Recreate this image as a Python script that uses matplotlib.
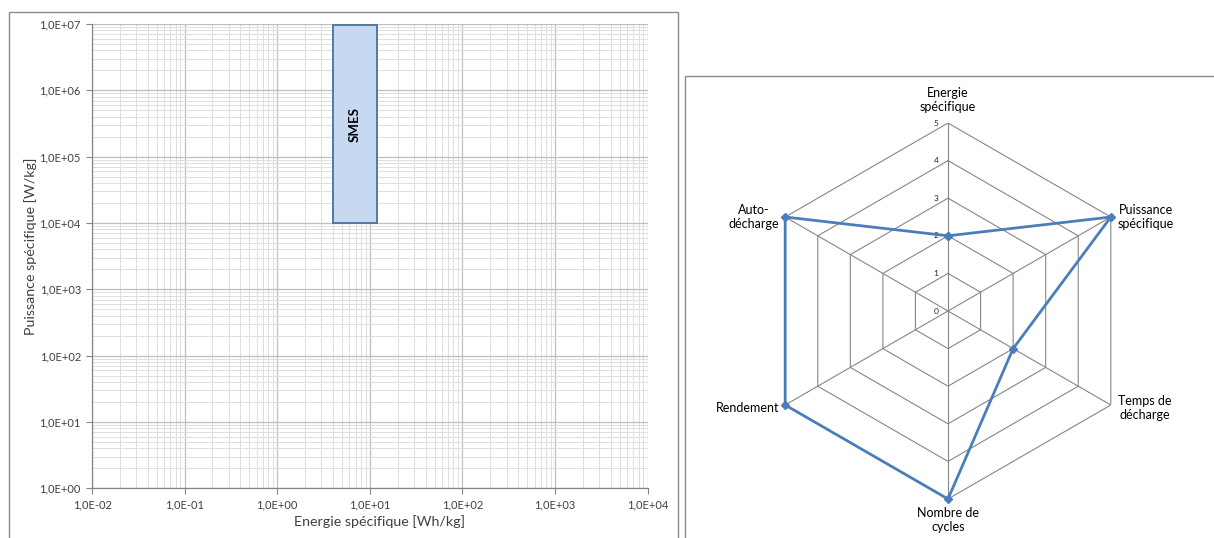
import numpy as np
import matplotlib.pyplot as plt
from matplotlib.patches import Rectangle
from matplotlib.ticker import FixedLocator, FuncFormatter, NullFormatter

plt.rcParams['font.family'] = ['Lato', 'DejaVu Sans']

# SMES domain in the Ragone plane
smes_energy = [4.0, 12.0]      # Wh/kg
smes_power = [1.0e4, 9.5e6]    # W/kg

# decades shown on both log axes
x_decades = [-2, -1, 0, 1, 2, 3, 4]
y_decades = [0, 1, 2, 3, 4, 5, 6, 7]

# radar criteria, scored 0..5
criteria = ['Energie\nspécifique', 'Puissance\nspécifique', 'Temps de\ndécharge',
            'Nombre de\ncycles', 'Rendement', 'Auto-\ndécharge']
scores = [2, 5, 2, 5, 5, 5]
rings = [0, 1, 2, 3, 4, 5]

GRID_MAJ = '#bfbfbf'
GRID_MIN = '#dedede'
AXIS_COL = '#868686'
TXT_COL = '#404040'
BLUE = '#4a7ebb'


def sci_comma(v, pos):
    e = int(np.floor(np.log10(v) + 1e-9))
    m = v / 10.0 ** e
    return f'{m:.1f}E{e:+03d}'.replace('.', ',')


def decade_ticks(decs):
    major = [10.0 ** d for d in decs]
    minor = [k * 10.0 ** d for d in decs[:-1] for k in range(2, 10)]
    return major, minor


fig = plt.figure(figsize=(12.14, 5.38), dpi=100)
W, H = 1214.0, 538.0

# chart frames
fig.add_artist(Rectangle((8.5 / W, -0.02), (678 - 8.5) / W, (538 - 11.5) / H + 0.02,
                         transform=fig.transFigure, fill=False, ec='#8c8c8c', lw=1))
fig.add_artist(Rectangle((685 / W, -0.02), (1230 - 685) / W, (538 - 76) / H + 0.02,
                         transform=fig.transFigure, fill=False, ec='#8c8c8c', lw=1))

# ---- Ragone plot ----
ax = fig.add_axes([92 / W, (538 - 488.3) / H, 555.7 / W, 464.3 / H])
ax.set_xscale('log')
ax.set_yscale('log')
ax.set_xlim(10.0 ** x_decades[0], 10.0 ** x_decades[-1])
ax.set_ylim(10.0 ** y_decades[0], 10.0 ** y_decades[-1])
for axis, decs in ((ax.xaxis, x_decades), (ax.yaxis, y_decades)):
    major, minor = decade_ticks(decs)
    axis.set_major_locator(FixedLocator(major))
    axis.set_minor_locator(FixedLocator(minor))
    axis.set_major_formatter(FuncFormatter(sci_comma))
    axis.set_minor_formatter(NullFormatter())
ax.grid(which='major', color=GRID_MAJ, lw=0.9)
ax.grid(which='minor', color=GRID_MIN, lw=0.7)
ax.set_axisbelow(True)
ax.tick_params(which='minor', length=0)
ax.tick_params(which='major', length=4, width=0.8, color=AXIS_COL,
               labelsize=8, labelcolor=TXT_COL, pad=4)
for s in ('top', 'right'):
    ax.spines[s].set_visible(False)
for s in ('left', 'bottom'):
    ax.spines[s].set_color(AXIS_COL)
    ax.spines[s].set_linewidth(0.9)

ax.add_patch(Rectangle((smes_energy[0], smes_power[0]),
                       smes_energy[1] - smes_energy[0], smes_power[1] - smes_power[0],
                       fc='#c6d9f1', ec='#4a6f9c', lw=1.3, zorder=3))
ax.text(np.sqrt(smes_energy[0] * smes_energy[1]), np.sqrt(smes_power[0] * smes_power[1]),
        'SMES', rotation=90, fontweight='bold', fontsize=9.5, ha='center', va='center', zorder=4)

fig.text(380 / W, 1 - 522 / H, 'Energie spécifique [Wh/kg]', fontsize=10.3,
         color=TXT_COL, ha='center', va='center')
fig.text(31 / W, 1 - 246 / H, 'Puissance spécifique [W/kg]', fontsize=10.3,
         color=TXT_COL, ha='center', va='center', rotation=90)

# ---- radar ----
cx, cy, R = 948.0, 311.0, 188.0
rax = fig.add_axes([(cx - R) / W, (H - cy - R) / H, 2 * R / W, 2 * R / H], projection='polar')
rax.set_theta_zero_location('N')
rax.set_theta_direction(-1)
rax.set_ylim(0, rings[-1])
rax.axis('off')

theta = np.arange(len(criteria)) * 2 * np.pi / len(criteria)
closed = np.append(theta, theta[0])
for r in rings[1:]:
    rax.plot(closed, [r] * len(closed), color=AXIS_COL, lw=0.8, zorder=1)
for t in theta:
    rax.plot([t, t], [0, rings[-1]], color=AXIS_COL, lw=0.8, zorder=1)
for r in rings:
    rax.annotate(str(r), xy=(0, r), xytext=(-12 * 0.72, 0), textcoords='offset points',
                 ha='center', va='center', fontsize=6, color='#222222')

rax.plot(closed, scores + [scores[0]], color=BLUE, lw=2, marker='D', ms=4,
         clip_on=False, zorder=3)

px = 0.72
offsets = [((0, 10), 'center', 'bottom'),
           ((7, 0), 'left', 'center'),
           ((7, -3), 'left', 'center'),
           ((0, -8), 'center', 'top'),
           ((-6, -3), 'right', 'center'),
           ((-6, 0), 'right', 'center')]
for t, lab, ((dx, dy), ha, va) in zip(theta, criteria, offsets):
    rax.annotate(lab, xy=(t, rings[-1]), xytext=(dx * px, dy * px), textcoords='offset points',
                 ha=ha, va=va, multialignment='center', fontsize=9, color='black',
                 annotation_clip=False)

fig.savefig('out.png', dpi=100)
